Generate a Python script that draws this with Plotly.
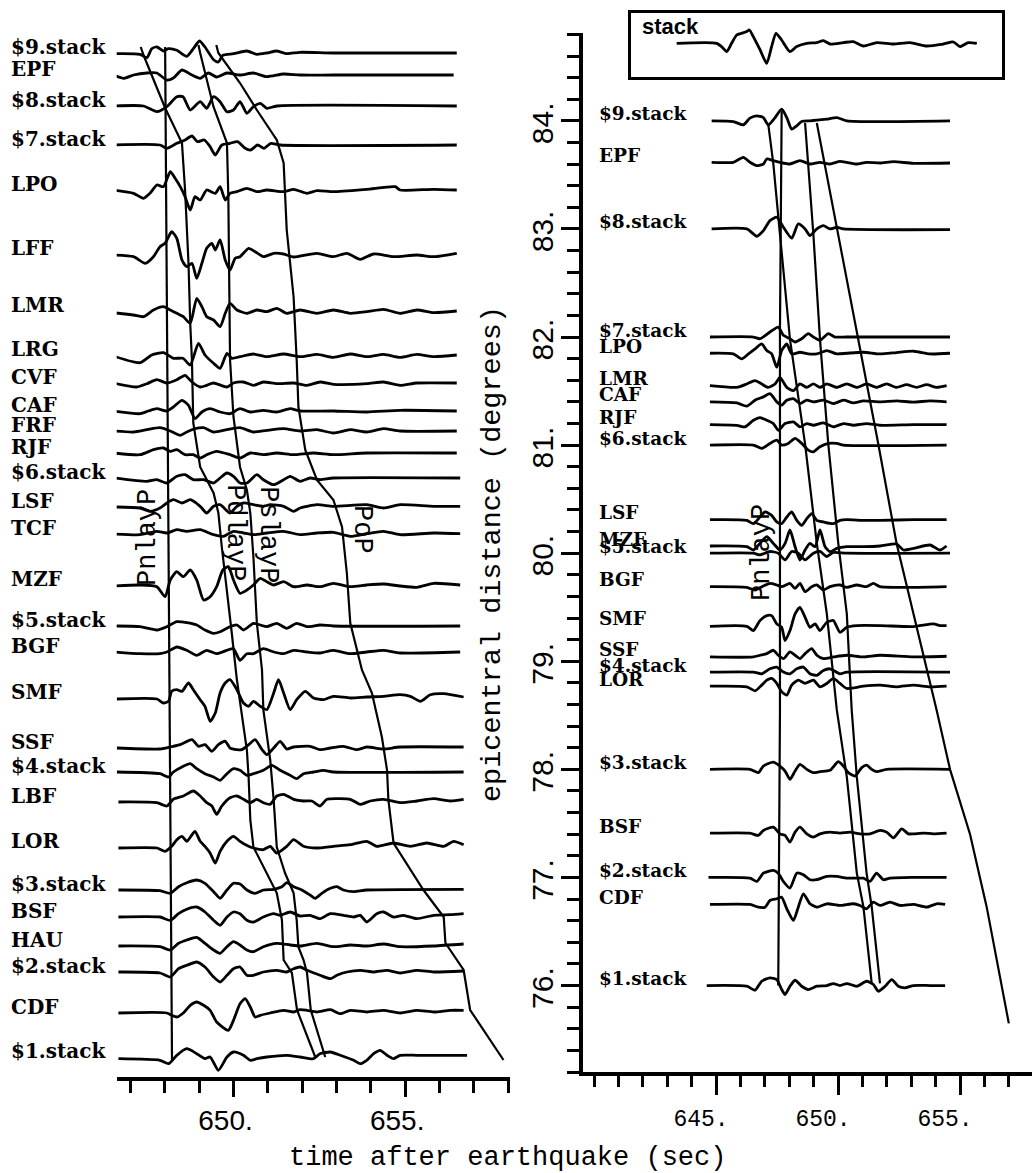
import plotly.graph_objects as go

# ---------------- LEFT PANEL: record section (time in s, amplitude in trace units) ----------------
LEFT_NAMES = ["$9.stack", "EPF", "$8.stack", "$7.stack", "LPO", "LFF", "LMR", "LRG", "CVF", "CAF",
              "FRF", "RJF", "$6.stack", "LSF", "TCF", "MZF", "$5.stack", "BGF", "SMF", "SSF",
              "$4.stack", "LBF", "LOR", "$3.stack", "BSF", "HAU", "$2.stack", "CDF", "$1.stack"]
LEFT_OFFSETS = [1024, 1002, 971, 932, 887, 823, 766, 722, 694, 666, 646, 624, 599, 570, 543, 492,
                451, 425, 379, 329, 305, 275, 230, 187, 160, 131, 105, 64, 20]

LEFT_TIMES = [
    [646.46, 647.28, 647.48, 647.62, 647.77, 647.96, 648.11, 648.35, 648.64, 648.83, 649.01, 649.17, 649.42, 649.56, 649.69, 650.00, 650.39, 650.68, 650.97, 651.26, 651.55, 651.94, 652.91, 656.50],
    [646.50, 646.80, 647.09, 647.48, 647.77, 648.06, 648.25, 648.50, 648.79, 649.03, 649.27, 649.51, 649.81, 650.19, 650.58, 650.97, 651.46, 651.94, 652.91, 656.41],
    [646.50, 647.38, 647.77, 648.06, 648.35, 648.53, 648.74, 649.03, 649.22, 649.42, 649.61, 649.81, 650.00, 650.19, 650.39, 650.58, 650.78, 650.97, 651.26, 656.50],
    [646.46, 647.86, 648.06, 648.35, 648.59, 648.79, 648.95, 649.15, 649.32, 649.47, 649.66, 649.90, 650.12, 650.34, 650.50, 650.70, 650.89, 651.09, 651.36, 656.50],
    [646.50, 647.09, 647.38, 647.57, 647.77, 647.96, 648.16, 648.30, 648.45, 648.59, 648.74, 648.88, 649.03, 649.22, 649.47, 649.61, 649.76, 649.90, 650.10, 650.39, 650.68, 650.97, 651.46, 651.75, 652.14, 652.43, 652.91, 653.88, 654.71, 654.85, 655.83, 656.50],
    [646.50, 647.09, 647.43, 647.67, 647.86, 648.01, 648.20, 648.35, 648.50, 648.64, 648.79, 648.93, 649.08, 649.22, 649.37, 649.47, 649.61, 649.76, 649.90, 650.05, 650.19, 650.44, 650.63, 650.87, 651.17, 651.46, 651.75, 652.43, 652.91, 653.30, 653.69, 654.08, 654.66, 655.34, 655.83, 656.50],
    [646.50, 647.09, 647.38, 647.67, 647.96, 648.16, 648.35, 648.54, 648.74, 648.93, 649.08, 649.22, 649.42, 649.61, 649.76, 649.90, 650.10, 650.39, 650.68, 650.97, 651.26, 651.55, 651.94, 652.43, 652.91, 653.40, 653.88, 654.37, 654.85, 655.34, 655.83, 656.50],
    [646.50, 647.28, 647.62, 647.96, 648.25, 648.53, 648.74, 648.98, 649.17, 649.42, 649.61, 649.81, 649.95, 650.19, 650.58, 650.97, 651.46, 651.94, 652.43, 652.91, 653.40, 653.88, 654.37, 654.85, 655.34, 655.83, 656.50],
    [646.50, 647.18, 647.48, 647.77, 648.06, 648.35, 648.59, 648.79, 649.03, 649.22, 649.42, 649.81, 650.00, 650.29, 650.58, 650.87, 651.26, 651.75, 652.14, 652.52, 652.91, 653.88, 654.37, 654.85, 655.34, 656.50],
    [646.50, 647.28, 647.52, 647.77, 648.06, 648.25, 648.50, 648.69, 648.88, 649.08, 649.32, 649.61, 649.90, 650.19, 650.49, 650.87, 651.26, 651.65, 651.94, 652.91, 653.88, 654.85, 656.50],
    [646.50, 647.09, 647.48, 647.86, 648.16, 648.45, 648.64, 648.88, 649.13, 649.42, 649.81, 650.19, 650.58, 650.97, 651.46, 651.94, 652.43, 652.91, 653.40, 653.88, 654.37, 654.85, 656.50],
    [646.50, 647.28, 647.67, 647.96, 648.16, 648.35, 648.59, 648.83, 649.03, 649.22, 649.51, 649.90, 650.19, 650.49, 650.87, 651.26, 651.75, 652.33, 652.91, 653.88, 656.50],
    [646.55, 647.48, 647.77, 648.06, 648.35, 648.59, 648.83, 649.13, 649.42, 649.61, 649.81, 650.00, 650.19, 650.39, 650.68, 650.87, 651.17, 651.46, 651.65, 651.94, 652.23, 652.52, 652.91, 656.60],
    [646.55, 647.28, 647.57, 647.86, 648.06, 648.25, 648.50, 648.74, 649.03, 649.22, 649.42, 649.61, 649.90, 650.10, 650.29, 650.58, 650.87, 651.07, 651.46, 651.75, 651.94, 652.43, 652.91, 653.88, 654.37, 654.85, 655.83, 656.60],
    [646.55, 647.28, 647.77, 648.06, 648.35, 648.64, 649.03, 649.42, 649.71, 650.00, 650.29, 650.58, 650.97, 651.46, 651.94, 652.43, 652.91, 653.40, 653.88, 654.37, 654.85, 655.83, 656.60],
    [646.55, 647.28, 647.77, 648.01, 648.16, 648.35, 648.54, 648.74, 648.93, 649.13, 649.32, 649.51, 649.69, 649.85, 650.00, 650.19, 650.39, 650.58, 650.78, 650.97, 651.17, 651.46, 651.75, 652.14, 652.52, 652.91, 653.40, 653.88, 654.37, 654.85, 655.34, 655.83, 656.60],
    [646.55, 647.28, 647.77, 648.06, 648.35, 648.64, 648.93, 649.17, 649.42, 649.61, 649.90, 650.10, 650.29, 650.58, 650.78, 650.97, 651.26, 651.55, 651.84, 652.14, 652.52, 652.91, 656.60],
    [646.55, 647.28, 647.86, 648.06, 648.35, 648.64, 648.93, 649.22, 649.51, 649.81, 650.00, 650.19, 650.39, 650.58, 650.87, 651.17, 651.46, 651.75, 652.14, 652.52, 652.91, 653.40, 653.88, 654.37, 654.85, 656.60],
    [646.60, 647.77, 647.96, 648.11, 648.20, 648.35, 648.50, 648.69, 648.83, 649.03, 649.17, 649.32, 649.47, 649.61, 649.76, 649.90, 650.10, 650.29, 650.44, 650.58, 650.78, 650.97, 651.17, 651.31, 651.46, 651.65, 651.84, 652.09, 652.33, 652.62, 652.91, 653.40, 653.88, 654.37, 654.85, 655.15, 655.44, 655.73, 656.12, 656.70],
    [646.60, 647.86, 648.16, 648.45, 648.79, 648.98, 649.17, 649.37, 649.56, 649.76, 649.90, 650.10, 650.24, 650.44, 650.63, 650.83, 650.97, 651.17, 651.36, 651.55, 651.75, 652.23, 652.52, 652.82, 653.20, 653.59, 653.88, 654.37, 654.85, 656.70],
    [646.60, 647.86, 648.11, 648.25, 648.50, 648.74, 648.93, 649.17, 649.42, 649.61, 649.81, 650.00, 650.19, 650.39, 650.58, 650.87, 651.12, 651.36, 651.65, 651.84, 652.04, 652.33, 652.62, 652.91, 656.70],
    [646.65, 647.77, 648.06, 648.25, 648.54, 648.83, 649.03, 649.22, 649.37, 649.51, 649.66, 649.90, 650.10, 650.29, 650.49, 650.68, 650.87, 651.07, 651.26, 651.46, 651.75, 652.04, 652.28, 652.52, 652.72, 653.11, 653.40, 653.69, 653.98, 654.37, 654.85, 655.34, 655.83, 656.31, 656.70],
    [646.65, 647.77, 648.01, 648.20, 648.35, 648.50, 648.64, 648.76, 648.88, 649.03, 649.17, 649.32, 649.47, 649.61, 649.81, 650.00, 650.19, 650.44, 650.58, 650.87, 651.07, 651.26, 651.55, 651.75, 652.04, 652.43, 652.91, 653.40, 653.88, 654.17, 654.66, 655.15, 655.63, 656.12, 656.41, 656.70],
    [646.65, 647.86, 648.16, 648.40, 648.64, 648.93, 649.17, 649.42, 649.61, 649.81, 650.00, 650.19, 650.39, 650.63, 650.87, 651.17, 651.41, 651.55, 651.75, 651.99, 652.23, 652.38, 652.57, 652.82, 653.01, 653.20, 653.50, 653.88, 656.70],
    [646.65, 647.86, 648.16, 648.40, 648.64, 648.93, 649.17, 649.42, 649.61, 649.81, 650.00, 650.19, 650.39, 650.58, 650.87, 651.17, 651.36, 651.65, 651.94, 652.23, 652.52, 652.82, 653.20, 653.50, 653.69, 653.88, 654.17, 654.37, 654.66, 654.95, 655.34, 655.83, 656.31, 656.70],
    [646.65, 647.86, 648.16, 648.40, 648.64, 648.93, 649.17, 649.42, 649.61, 649.81, 650.00, 650.19, 650.39, 650.58, 650.87, 651.26, 651.65, 651.94, 652.43, 652.91, 653.40, 653.88, 654.37, 654.85, 655.83, 656.70],
    [646.65, 647.86, 648.16, 648.40, 648.64, 648.93, 649.17, 649.42, 649.61, 649.81, 650.00, 650.19, 650.39, 650.58, 650.87, 651.26, 651.55, 651.75, 651.94, 652.14, 652.52, 652.82, 653.01, 653.30, 653.69, 654.08, 654.47, 654.85, 655.34, 655.83, 656.70],
    [646.65, 648.06, 648.20, 648.35, 648.54, 648.74, 648.93, 649.13, 649.32, 649.51, 649.85, 650.00, 650.19, 650.34, 650.49, 650.63, 650.78, 651.07, 651.46, 651.75, 651.94, 652.14, 652.43, 652.82, 653.11, 653.40, 653.88, 654.37, 654.85, 655.34, 655.83, 656.31, 656.70],
    [646.65, 647.86, 648.11, 648.35, 648.64, 648.93, 649.17, 649.32, 649.56, 649.81, 650.00, 650.29, 650.49, 650.68, 650.97, 651.55, 651.94, 652.33, 652.52, 652.82, 653.11, 653.50, 653.69, 653.88, 654.08, 654.27, 654.47, 654.66, 654.85, 655.34, 655.83, 656.80],
]

LEFT_AMPS = [
    [-0.7, -1.3, -4.7, 4.3, 6, 2, 4.3, 2.7, -3.3, 4.3, 12, 6, -6.7, -9, -2.3, -0.7, 2, -1.3, 0, 2, -0.7, 0.7, 0, 0],
    [0, -3.3, 0, 2, 2, -5, -3, 5, 0, -3.3, 2, -2, 2, 0, 2, -1.7, 1, 0, 0, 0],
    [0, 0, -5.7, -0.7, 9.3, 9.3, -4, 4.3, -2.3, 9.3, 4.3, -5.7, -4, 4.3, -7.3, -0.7, 2.7, -2.3, 0, 0],
    [0, 0, -3.3, 1.7, 5, 9, 3.3, 5, -1.7, -10, 0, 1.7, 3.3, -3.3, -5, 0, -3.3, 1.7, 0, 0],
    [0, -3.3, -8.3, -3.3, 5, 3.3, 18.3, 11.7, 3.3, -6.7, -20, -6.7, -10, 0, -3.3, 3.3, -10, -3.3, -1.7, 1.7, -1.7, 0, -1.7, 0.7, -3.3, -0.7, -1.7, 0.7, 3.3, 0, 0.7, 0],
    [-1, -2.7, -9.3, -2.7, 7.3, 10.7, 22.3, 15.7, -6, -12.7, -9.3, -24.3, -9.3, 5.7, 10.7, 4, 14, -6, -16, -4.3, -2.7, 5.7, 2.3, -2.7, 0.7, 0, -3, 0.7, -2.7, 0.7, -5.3, 0, -2.7, -1, -2.7, 0.7],
    [-1.7, -4, -5.7, 1, 4.3, 1, -2.3, -5.7, -12.3, 12.7, 4.3, -5.7, -9, -15.7, -2.3, 7.7, 1, -2.3, 1, -0.7, 2.7, -2.3, 1, -2.3, 1, -2.3, -0.7, 1.7, -2.3, 1, -1.7, 0],
    [-1, -7.7, 0, 2.3, -3.3, -3.3, -10, 11.7, 0, -8.3, -13.3, 1.7, -3.3, -1.7, 1, -1.7, 1, -1.7, 0.7, -2.3, 1, -1.7, 0.7, -2.3, 0.7, -1.7, 0],
    [0, -4, -0.7, 3.3, 0, 3.3, 7.7, 1, -4, -2.3, 0, -4, 0, 1, -2.3, 1, -0.7, 0, -2.3, 1, -1.3, -0.7, 1, -2.3, 0, 0],
    [0, -2.7, 0, 2.3, 0, 4, 10.7, 5.7, -7.7, -1, 2.3, -1, -2.7, 2.3, -1, 0.7, -1, 2.3, 0, 0, -1, 0.7, 0],
    [0, -1, 1.3, 3.3, 0, -4.3, -1, 2.3, 3.3, -1, 1.3, 3.3, -1, 0.7, 2.3, 0, 1.3, -2, 1.3, -1, 2.3, 0, 0],
    [0, -1.7, 3.3, 5, 1.7, 3.3, -1.7, -1.7, -5, -1.7, 1.7, -1.7, -5, 0, -1.7, 0, -1.7, 0, -1.7, 0, 0],
    [0, -3.3, -1.7, -5, 1.7, 3.3, -1.7, -1.7, -5, 0, 5, 1.7, -5, -5, 3.3, -1.7, -6.7, -1.7, 1.7, -3.3, 0, -1.7, 0, 0],
    [0, -1, -4.3, -1, 4, 7.3, 4, 7.3, 0.7, -6, 0.7, 2.3, -6, 0.7, 4, 2.3, 0.7, 2.3, 0.7, -4.3, -1, 2.3, 0.7, 2.3, -1, 2.3, 0.7, 0.7],
    [0, -0.7, 2.7, 1, 4.3, 2.7, 4.3, -0.7, -2.3, 2.7, 1, -0.7, 1, 2.7, -0.7, 1, 1.7, -2.3, 0.3, 2.7, -0.7, 1, 0.3],
    [-1, 0, -1.7, -11.7, 5, 13.3, 8.3, 15, 5, -15, -11.7, -1.7, 15, 18.3, 5, -8.3, -5, 0, 6.7, 3.3, 0, 3.3, -1.7, 0, -1.7, 1.7, -1.7, 0, 1, -1, -2.3, 1.7, 0],
    [0, -0.7, -4, -0.7, 4.3, 3.3, 1, -4, -7.3, -5.7, -0.7, 1, -4, 2.7, 1, -0.7, 2.7, -2.3, 2.7, -0.7, 1, 0, 0],
    [0, -1.7, -1.7, 0, 5, 1.7, -3.3, 1.7, -1.7, 1.7, 3.3, -8.3, -1.7, -1.7, 3.3, 0, -1.7, 1.7, 0, -1, 1.7, -1.7, 0, 1.7, -1, 0],
    [-1, -1, -5, -3.3, 6.7, 8.3, 6.7, 15, 8.3, -1.7, -8.3, -23.3, -15, 5, 15, 18.3, 8.3, -5, -8.3, -3.3, -8.3, -11.7, 5, 18.3, 5, -11.7, -1.7, 6.7, 0, -1.7, 1.7, 0, 1, 1.7, 3.3, 1.7, -3.3, 3.3, 4.3, 1],
    [0, -1, 1, 3.3, 8.3, 1.7, 3.3, -3.3, 3.3, 6.7, 0, -1.7, -1.7, 3.3, 8.3, -1.7, -6.7, 0, 6.7, -1, 1, 1.7, -1.7, 0, 1.7, -1.7, 1, -1, 1, 1],
    [0, -1.7, -5, 0, 5, 8.3, 3.3, -1.7, -5, -8.3, -1.7, 3.3, 1.7, -3.3, -1.7, 1.7, 6.7, 1.7, -3.3, -6.7, -1.7, 0, 1.7, 0, 0],
    [0, -0.7, -4, 2.7, 6, 11, 6, -0.7, -4, -12.3, -4, 4.3, 6, 2.7, -0.7, 2.7, -0.7, -2.3, 6, 7.7, 2.7, 1, 1, -4, 2.7, 3.3, 2.7, -2.3, 1, 2.7, -0.7, 1, 3.3, 1, 2.7],
    [-1, -1, -4.3, 0.7, 7.3, 10.7, 5.7, 10.7, 15.7, 5.7, 0.7, -6, -16, -4.3, 5.7, 10.7, 5.7, 0.7, -1, -2.7, 0.7, -6, 0.7, 7.3, 0.7, -1, 0.7, 2.3, 5.7, 0.7, 4, 0.7, 4, 0.7, 5.7, 2.3],
    [0, -0.7, -3.3, 3.3, 7.3, 10, 6.7, -1.7, -8.3, 0, 6.7, 6, 0, -3.3, 0, 0.7, 3.3, 7.3, 3.3, 0, -5, -8.3, -3.3, 1.7, 3.3, 0, -1.7, 0, 0.7],
    [0, 0, -3.3, 3.3, 7.7, 10, 5, -3.3, -8.3, 0, 5, 3.3, -3.3, -5, 0, 3.3, 1.7, 5, 1, 1.7, -1.7, 3.3, 1.7, 0, 1.7, -5, 3.3, 5, 0, 1.7, -1.7, 1.7, 2.3, 3.3],
    [0, -0.7, -4, 2.7, 6, 8.7, 2.7, -4, -7.3, -0.7, 4.3, 1, -4, -5.7, -0.7, 2.7, 1, 0, 2.7, -0.7, 1, 0, 2, -0.7, 0, 2],
    [0, -1, -5, 3.3, 6.7, 10, 5, -5, -10, -3.3, 3.3, 5, -3.3, -3.3, 0, 1.7, 0, 3.3, 5, 1.7, -3.3, -6.7, -3.3, 0, 1.7, 0, 1.7, -1, 1.7, 0, 1],
    [0, 0, -2.3, -4, 0, 7.7, 11, 7.7, 2.7, -9, -17.3, -7.3, 9.3, 14.3, 6, -4, -2.3, 0, 2.7, 1, 3.3, 2.7, 1, 3.3, -0.7, 2.7, 1, 2.7, 0, 2.7, 1, 2.7, 2.7],
    [-1.7, -3.3, -6.7, 1.7, 8.3, 3.3, -1.7, 0, -13.3, 0, 5, 1.7, -3.3, -1.7, 0, 1.7, 0, -1.7, 3.3, 5, 1.7, -3.3, -6.7, -3.3, 3.3, 6.7, 1.7, -1.7, 1.7, 1.7, 1.7, 1.7],
]

# travel-time curves on the left panel (time s, trace offset)
L_PNLAYP_T = [648.01, 648.08, 648.14, 648.21]
L_PNLAYP_Y = [1030, 700, 400, 17]
L_PDLAYP_T = [647.30, 647.38, 648.01, 648.50, 648.59, 648.69, 648.74, 648.79, 648.83, 649.03, 649.42, 649.56, 649.66, 649.81, 649.95, 650.10, 650.39, 650.44, 650.49, 650.58, 650.97, 651.26, 651.41, 651.46, 651.70, 651.85, 652.38]
L_PDLAYP_Y = [1030, 1022, 969, 934, 887, 814, 754, 717, 654, 610, 584, 564, 530, 487, 444, 397, 327, 300, 257, 230, 204, 184, 157, 117, 104, 67, 20]
L_PSLAYP_T = [648.98, 649.03, 649.42, 649.81, 649.85, 649.90, 650.00, 650.19, 650.39, 650.49, 650.58, 650.68, 650.83, 650.87, 651.07, 651.17, 651.26, 651.50, 651.75, 651.84, 651.89, 652.04, 652.14, 652.25, 652.67]
L_PSLAYP_Y = [1032, 1024, 970, 934, 880, 717, 660, 610, 587, 564, 520, 454, 407, 367, 317, 277, 230, 204, 184, 157, 130, 117, 104, 67, 20]
L_POP_T = [649.50, 649.56, 650.19, 650.68, 651.26, 651.46, 651.55, 651.75, 651.84, 651.89, 652.09, 652.43, 652.91, 653.16, 653.30, 653.40, 653.74, 654.03, 654.32, 654.47, 654.51, 654.66, 655.53, 656.12, 656.17, 656.70, 656.89, 657.86]
L_POP_Y = [1032, 1024, 994, 967, 937, 914, 847, 780, 717, 670, 627, 597, 577, 550, 504, 454, 407, 384, 340, 307, 277, 234, 187, 160, 134, 107, 67, 17]

# ---------------- RIGHT PANEL: traces at epicentral distance ----------------
RIGHT_NAMES = ["$9.stack", "EPF", "$8.stack", "$7.stack", "LPO", "LMR", "CAF", "RJF", "$6.stack", "LSF",
               "MZF", "$5.stack", "BGF", "SMF", "SSF", "$4.stack", "LOR", "$3.stack", "BSF", "$2.stack",
               "CDF", "$1.stack"]
RIGHT_DIST = [84.0, 83.61, 83.0, 82.0, 81.85, 81.55, 81.40, 81.19, 81.0, 80.31, 80.06, 80.0, 79.69, 79.33,
              79.04, 78.90, 78.77, 78.0, 77.41, 77.0, 76.75, 76.0]
RIGHT_TIMES = [
    [644.82, 645.71, 646.12, 646.39, 646.67, 646.94, 647.14, 647.42, 647.69, 647.90, 648.10, 648.31, 648.51, 648.85, 649.13, 649.54, 649.95, 650.36, 654.59],
    [644.82, 645.71, 646.12, 646.39, 646.67, 646.94, 647.08, 647.35, 647.62, 648.03, 648.44, 648.85, 649.26, 649.67, 650.08, 650.36, 650.77, 651.17, 651.72, 652.27, 653.09, 654.59],
    [644.82, 646.26, 646.67, 646.94, 647.21, 647.49, 647.76, 648.10, 648.37, 648.65, 648.85, 649.13, 649.40, 649.67, 649.95, 650.22, 654.59],
    [644.75, 646.53, 646.80, 647.21, 647.55, 647.76, 648.03, 648.24, 648.51, 648.78, 648.99, 649.26, 649.60, 649.88, 650.36, 654.59],
    [644.75, 645.71, 646.05, 646.33, 646.60, 646.87, 647.08, 647.28, 647.49, 647.69, 647.90, 648.10, 648.44, 648.78, 649.13, 649.54, 649.95, 650.36, 651.04, 651.72, 652.40, 653.09, 653.77, 654.59],
    [644.75, 645.85, 646.26, 646.60, 646.87, 647.14, 647.42, 647.62, 647.90, 648.17, 648.44, 648.72, 648.99, 649.26, 649.54, 649.95, 650.36, 650.77, 651.17, 651.58, 651.99, 652.40, 652.81, 653.22, 653.63, 654.04, 654.45],
    [644.75, 645.85, 646.26, 646.60, 646.94, 647.21, 647.49, 647.69, 647.90, 648.17, 648.44, 648.72, 648.99, 649.40, 649.81, 650.22, 650.63, 651.04, 651.72, 652.40, 653.09, 653.77, 654.45],
    [644.75, 645.85, 646.19, 646.53, 646.80, 647.08, 647.35, 647.55, 647.83, 648.17, 648.44, 648.72, 648.99, 649.40, 649.81, 650.22, 650.63, 651.17, 651.72, 653.09, 654.45],
    [644.75, 646.53, 646.87, 647.21, 647.49, 647.69, 647.96, 648.24, 648.51, 648.78, 648.99, 649.26, 649.60, 649.95, 650.22, 654.45],
    [644.75, 646.26, 646.53, 646.80, 647.01, 647.28, 647.49, 647.69, 647.90, 648.10, 648.31, 648.51, 648.72, 648.92, 649.13, 649.40, 649.81, 650.08, 650.36, 651.04, 651.72, 653.09, 654.45],
    [644.75, 646.26, 646.53, 646.80, 647.08, 647.35, 647.62, 647.83, 648.03, 648.24, 648.44, 648.65, 648.85, 649.06, 649.26, 649.47, 649.67, 649.95, 650.36, 651.04, 651.72, 652.40, 652.68, 653.09, 653.77, 654.18, 654.45],
    [644.75, 646.53, 646.80, 647.21, 647.55, 647.83, 648.10, 648.37, 648.65, 648.99, 649.26, 649.54, 649.81, 650.36, 654.59],
    [644.75, 646.26, 646.60, 646.94, 647.21, 647.49, 647.69, 648.03, 648.24, 648.44, 648.65, 648.92, 649.13, 649.40, 649.67, 650.08, 650.36, 650.77, 651.17, 651.45, 651.72, 653.09, 654.45],
    [644.75, 646.26, 646.53, 646.80, 647.08, 647.28, 647.49, 647.69, 647.83, 648.03, 648.24, 648.44, 648.65, 648.85, 649.06, 649.26, 649.54, 649.81, 650.08, 650.36, 650.77, 651.72, 653.09, 653.91, 654.18, 654.45],
    [644.75, 646.53, 646.80, 647.08, 647.35, 647.55, 647.76, 648.03, 648.24, 648.44, 648.65, 648.92, 649.13, 649.40, 649.81, 650.36, 651.04, 651.72, 653.09, 654.45],
    [644.75, 646.53, 646.87, 647.21, 647.49, 647.76, 648.03, 648.31, 648.58, 648.85, 649.13, 649.40, 649.67, 650.08, 650.36, 654.59],
    [644.75, 646.26, 646.60, 646.87, 647.08, 647.28, 647.49, 647.69, 647.90, 648.10, 648.37, 648.65, 648.99, 649.26, 649.54, 649.81, 650.08, 650.36, 651.04, 651.72, 652.40, 653.09, 653.77, 654.45],
    [644.75, 646.39, 646.73, 646.94, 647.35, 647.62, 647.83, 648.03, 648.24, 648.44, 648.72, 648.99, 649.26, 649.67, 650.01, 650.22, 650.42, 650.70, 650.97, 651.17, 651.38, 651.58, 651.99, 654.59],
    [644.75, 646.39, 646.73, 646.94, 647.35, 647.62, 647.83, 648.03, 648.24, 648.44, 648.72, 648.99, 649.26, 649.67, 650.08, 650.49, 650.90, 651.31, 651.72, 651.99, 652.27, 652.61, 652.88, 653.09, 653.50, 653.91, 654.45],
    [644.69, 646.39, 646.67, 646.94, 647.35, 647.55, 647.76, 648.03, 648.31, 648.58, 648.85, 649.13, 649.54, 649.95, 650.36, 650.77, 651.04, 651.31, 651.58, 651.86, 652.13, 653.09, 654.45],
    [644.75, 646.39, 646.73, 647.01, 647.21, 647.49, 647.69, 647.90, 648.17, 648.37, 648.58, 648.85, 649.13, 649.54, 650.08, 650.63, 650.90, 651.17, 651.45, 651.72, 652.13, 652.54, 653.09, 653.63, 654.04, 654.39],
    [644.62, 646.26, 646.60, 646.87, 647.21, 647.49, 647.69, 647.83, 648.03, 648.24, 648.51, 648.78, 649.13, 649.54, 649.81, 650.08, 650.36, 650.77, 651.17, 651.45, 651.65, 651.93, 652.20, 652.47, 652.75, 653.09, 653.77, 654.39],
]
RIGHT_AMPS = [
    [0, -0.7, -4, 2.7, 5, 3.3, -4, 3.3, 11.7, 3.3, -8.3, -5, -0.7, 0, 0.7, 1.7, 3.3, 0, 0],
    [0.7, 0.7, 5.7, 0.7, -2.7, -1, 4, 2.3, 0.7, -1, 2.3, -1, 0.7, -1, 1.7, 0.7, -1, 0.7, 0, 1.3, -0.3, 0],
    [0, 0, -7.3, -1.7, 8.3, 11.7, 1.7, -9.3, 5, 0, -6.7, 0, 3.3, 0, 1.7, 0, -0.7],
    [0, 0, -1.7, 5, 10, 1.7, -1.7, -5, -1.7, 3.3, 0, -3.3, 3.3, 0, 0, 0],
    [0, -0.7, -5.7, -0.7, 4.3, 9.3, 2.7, -0.7, -14, 2.7, 9.3, -0.7, 1, -0.7, -0.7, 2.7, -0.7, 0, 1, -0.7, 0.7, 2, -0.7, 0],
    [0, -1.7, 1.7, 5, 1.7, -1.7, 1.7, 8.3, -1.7, -5, 1.7, -1.7, 1.7, -1.7, 1.7, -1.7, 1.7, -1.7, 1.7, -1.7, 1.7, -1.7, 1, -1.7, 1, -1.7, 0],
    [0, -1, -4.3, 1.7, 5, 8.3, 0, -3.3, 1.7, 3.3, -1.7, 1.7, 0, 1.7, -1.7, 1.7, -1, 1, 0, 1, -0.3, 1, 0],
    [0, -0.7, -2.3, 4.3, 7, 4.3, 1, -5.7, 1, 2.7, -2.3, 1, -0.7, 1.7, -2.3, 1, -0.7, 1, -0.7, 0, 0],
    [0, 0, -3.3, 1.7, 5, 0, 1.7, 6.7, 1.7, -5, -6.7, -1.7, 1.7, 1.7, 0, 0],
    [0, -0.7, -4, 2.7, 7.7, 4.3, -2.3, -4, 2.7, 7.7, -0.7, -5.7, 1, 6, -0.7, -2.3, -4, -0.7, 0, -0.7, -0.7, 0, 0],
    [0.7, 0, -3.3, 3.3, 10, 3.3, -3.3, 3.3, 16.7, 0, -13.3, -3.3, 3.3, 0, 16.7, 0, -5, -1.7, 0, 0, 0.7, 2.7, -3.3, -1.7, 1.7, -3.3, 0.7],
    [0, 0, -1.7, 1.7, 0, -6.7, 1.7, 0, -6.7, 0, 1.7, -3.3, 0.7, 0, 0],
    [0, -0.7, -3.3, 0.7, 3.3, 1.7, 0, 3.3, -1.7, 3.3, -5, 0, 1.7, -3.3, 0, 1.7, -0.7, 1.7, 0, 3.3, 0, -0.7, 0],
    [-0.7, -0.7, -5, 5, 10, 10, 1.7, -1.7, -15, -5, 11.7, 18.3, 8.3, -1.7, 1.7, -5, 3.3, 5, -6.7, -1.7, 0, 0, -1, 1.7, 0, 0],
    [0, 0, 1.7, 3.3, 6.7, 1.7, -1.7, 5, 1.7, -1.7, 3.3, 8.3, 1.7, -1.7, 0, 1.7, 0, 1.7, 0, 0.7],
    [0, 0, -1.7, 3.3, 5, 0, -1.7, 3.3, 5, -1.7, -3.3, 1.7, 3.3, -1.7, 0, 0],
    [0, -0.7, -4.7, 1, 6, 7.7, 2.7, -5.7, -9, 1, 6, 2.7, 6, -0.7, 2.7, 7.7, 2.7, -2.3, 0, 1, -0.7, 1, -0.7, 0],
    [0, 0, -3.3, 3.3, 7.3, 3.3, -1.7, -10, -1.7, 5, 0, -3.3, -2.3, -1, 7.7, 3.3, -3.3, -6.7, 1.7, 4.3, 0, -2.3, 0, 0],
    [0, 0, -2.3, 2.7, 6, -0.7, -2.3, -9, 1, 6, -0.7, -4, -0.7, 1, 0, 1, -0.7, -0.7, 2.7, 1, -4.7, 4.3, -0.7, -0.7, 0, -0.7, 0],
    [0, -0.7, -4, 4.3, 7, 4.3, -4, -10.7, 4.3, 2.7, -2.3, -2.3, 1, 1, -0.7, -0.7, -0.7, -4, 4.3, -2.3, -0.7, 0, 0],
    [0, 0, -2.7, -2.7, 4, 5.7, 7.3, -4.3, -16, -2.7, 10.7, 0.7, -2.7, 0.7, -1, 0.7, -1, -4.3, 2.3, -1, 2.3, -1, 0, -2.7, 0.7, 0],
    [0, -0.7, -4.7, 4.3, 7.7, 6, -4, -9, -0.7, 5.3, -0.7, -4, -0.7, 0, 2, 0, 2, -0.7, 4.3, 1, -5.7, -0.7, 6, -0.7, -2.3, 0, 0, 0],
]
RIGHT_AMP_SCALE = 1 / 108.2   # degrees per amplitude unit

# travel-time curves on the right panel (time s, distance deg)
R_PNLAYP_T = [647.69, 647.62, 647.62, 647.55]
R_PNLAYP_D = [84.09, 82.06, 78.55, 76.0]
R_PDLAYP_T = [647.14, 647.35, 647.62, 648.03, 648.65, 649.13, 649.54, 649.95, 650.36, 650.77, 651.04, 651.38]
R_PDLAYP_D = [83.97, 83.60, 82.95, 81.98, 81.01, 80.09, 79.44, 78.55, 77.93, 77.04, 76.73, 76.02]
R_PSLAYP_T = [648.65, 648.99, 649.26, 649.60, 650.01, 650.36, 650.56, 650.77, 651.17, 651.38, 651.72]
R_PSLAYP_D = [83.98, 82.95, 81.98, 81.01, 80.09, 79.44, 78.55, 77.93, 77.04, 76.73, 76.02]
R_POP_T = [649.13, 650.01, 650.83, 651.65, 652.40, 653.09, 654.04, 654.59, 655.41, 656.09, 656.71, 657.00]
R_POP_D = [83.98, 82.95, 81.98, 81.01, 80.09, 79.44, 78.55, 78.0, 77.4, 76.73, 76.0, 75.65]

# inset: overall stack
STACK_T = [0, 1.64, 1.84, 2.05, 2.25, 2.46, 2.66, 2.87, 2.98, 3.14, 3.42, 3.69, 3.89, 4.07, 4.30, 4.64, 4.92,
           5.33, 5.74, 6.01, 6.28, 6.83, 7.24, 7.65, 8.20, 8.88, 9.56, 10.25, 10.93, 11.34, 11.61, 11.95, 12.30]
STACK_A = [0, 0, -3.3, -8.3, 0, 8.3, 10, 11.7, 13.3, 6.7, -6.7, -20, -3.3, 10, 3.3, -8.3, -3.3, 0, 0.7, 2.7,
           -0.7, 0.7, 1.7, -2.7, 0.7, -0.7, 0.7, -2.7, -0.7, 1.3, -3.3, 0.7, 0]

LEFT_TICKS = [650, 655]
RIGHT_TICKS = [645, 650, 655]
DIST_TICKS = [76, 77, 78, 79, 80, 81, 82, 83, 84]

# ---------------- figure ----------------
fig = go.Figure()
WAVE = dict(color="black", width=2.8, shape="spline", smoothing=0.6)
CURVE = dict(color="black", width=2.2)

for off, ts, amps in zip(LEFT_OFFSETS, LEFT_TIMES, LEFT_AMPS):
    fig.add_trace(go.Scatter(x=ts, y=[off + a for a in amps], mode="lines", line=WAVE,
                             xaxis="x", yaxis="y", hoverinfo="skip"))
for tx, ty in [(L_PNLAYP_T, L_PNLAYP_Y), (L_PDLAYP_T, L_PDLAYP_Y), (L_PSLAYP_T, L_PSLAYP_Y), (L_POP_T, L_POP_Y)]:
    fig.add_trace(go.Scatter(x=tx, y=ty, mode="lines", line=CURVE, xaxis="x", yaxis="y", hoverinfo="skip"))

for d, ts, amps in zip(RIGHT_DIST, RIGHT_TIMES, RIGHT_AMPS):
    fig.add_trace(go.Scatter(x=ts, y=[d + a * RIGHT_AMP_SCALE for a in amps], mode="lines", line=WAVE,
                             xaxis="x2", yaxis="y2", hoverinfo="skip"))
for tx, ty in [(R_PNLAYP_T, R_PNLAYP_D), (R_PDLAYP_T, R_PDLAYP_D), (R_PSLAYP_T, R_PSLAYP_D), (R_POP_T, R_POP_D)]:
    fig.add_trace(go.Scatter(x=tx, y=ty, mode="lines", line=CURVE, xaxis="x2", yaxis="y2", hoverinfo="skip"))

fig.add_trace(go.Scatter(x=STACK_T, y=STACK_A, mode="lines", line=WAVE, xaxis="x3", yaxis="y3", hoverinfo="skip"))

ann = []
LABEL_FONT = "DejaVu Serif, Liberation Serif, serif"
for name, off in zip(LEFT_NAMES, LEFT_OFFSETS):
    ann.append(dict(text="<b>" + name + "</b>", x=9 / 1032, xref="paper", xanchor="left", y=off, yref="y",
                    yanchor="middle", yshift=6, showarrow=False,
                    font=dict(family=LABEL_FONT, size=20, color="black")))
for name, d in zip(RIGHT_NAMES, RIGHT_DIST):
    ann.append(dict(text="<b>" + name + "</b>", x=640.12, xref="x2", xanchor="left", y=d, yref="y2",
                    yanchor="middle", yshift=7, showarrow=False,
                    font=dict(family=LABEL_FONT, size=18.5, color="black")))

MONO = "Liberation Mono, Courier New, monospace"
phase_labels = [
    ("PnlayP", 647.51, 540, "x", "y", -90),
    ("PdlayP", 650.04, 544, "x", "y", 90),
    ("PslayP", 651.00, 542, "x", "y", 90),
    ("PoP", 653.74, 547, "x", "y", 90),
    ("PnlayP", 646.88, 80.01, "x2", "y2", -90),
]
for txt, x, y, xr, yr, ang in phase_labels:
    ann.append(dict(text=txt, x=x, y=y, xref=xr, yref=yr, textangle=ang, showarrow=False,
                    xanchor="center", yanchor="middle",
                    font=dict(family=MONO, size=27, color="black")))

ann.append(dict(text="<b>stack</b>", x=-1.5, y=17.3, xref="x3", yref="y3", xanchor="left", yanchor="middle",
                showarrow=False, font=dict(family="Liberation Sans, Arial", size=22, color="black")))
ann.append(dict(text="time after earthquake (sec)", x=507 / 1032, y=1 - 1158 / 1173, xref="paper", yref="paper",
                xanchor="center", yanchor="middle",
                showarrow=False, font=dict(family=MONO, size=27, color="black")))
ann.append(dict(text="epicentral distance (degrees)", x=492 / 1032, y=1 - 554 / 1173, xref="paper",
                yref="paper", textangle=-90, xanchor="center", yanchor="middle", showarrow=False,
                font=dict(family=MONO, size=28.5, color="black")))

left_minor = [t for t in range(647, 659) if t not in LEFT_TICKS]
right_minor = [t for t in range(640, 658) if t not in RIGHT_TICKS]
dist_minor = [round(75.2 + 0.2 * i, 1) for i in range(49)]
dist_minor = [v for v in dist_minor if abs(v - round(v)) > 0.01]

fig.update_layout(
    width=1032, height=1173, margin=dict(l=0, r=0, t=0, b=0, autoexpand=False),
    paper_bgcolor="white", plot_bgcolor="white", showlegend=False, hovermode=False,
    annotations=ann,
    xaxis=dict(domain=[116.7 / 1032, 510 / 1032], range=[646.6, 658.05], anchor="y",
               showline=True, linewidth=3.5, linecolor="black", showgrid=False, zeroline=False,
               ticks="outside", tickmode="array", tickvals=LEFT_TICKS, ticktext=[f"{v}." for v in LEFT_TICKS],
               ticklen=16, tickwidth=3, tickcolor="black", ticklabelshift=-8, ticklabelstandoff=0,
               tickfont=dict(family="Liberation Sans, Arial", size=28, color="black"),
               minor=dict(ticks="outside", tickmode="array", tickvals=left_minor, ticklen=12, tickwidth=3,
                          tickcolor="black", showgrid=False)),
    yaxis=dict(domain=[1 - 1077 / 1173, 1.0], range=[0, 1077], anchor="x", visible=False),
    xaxis2=dict(domain=[583.3 / 1032, 1.0], range=[639.56, 657.95], anchor="y2",
                showline=True, linewidth=3.5, linecolor="black", showgrid=False, zeroline=False,
                ticks="outside", tickmode="array", tickvals=RIGHT_TICKS, ticktext=[f"{v}." for v in RIGHT_TICKS],
                ticklen=19, tickwidth=3, tickcolor="black", ticklabelshift=-15, ticklabelstandoff=4,
                tickfont=dict(family=MONO, size=23, color="black"),
                minor=dict(ticks="outside", tickmode="array", tickvals=right_minor, ticklen=11, tickwidth=3,
                           tickcolor="black", showgrid=False)),
    yaxis2=dict(domain=[1 - 1072 / 1173, 1 - 33.3 / 1173], range=[75.2, 84.81], anchor="x2",
                showline=True, linewidth=3.5, linecolor="black", showgrid=False, zeroline=False,
                ticks="outside", tickmode="array", tickvals=DIST_TICKS, ticktext=[f"{v}." for v in DIST_TICKS],
                ticklen=19, tickwidth=3, tickcolor="black", tickangle=-90, ticklabelshift=7,
                ticklabelstandoff=-4,
                tickfont=dict(family="Liberation Sans, Arial", size=30, color="black"),
                minor=dict(ticks="outside", tickmode="array", tickvals=dist_minor, ticklen=13, tickwidth=3,
                           tickcolor="black", showgrid=False)),
    xaxis3=dict(domain=[630.7 / 1032, 1001.7 / 1032], range=[-1.885, 13.32], anchor="y3",
                showline=True, mirror=True, linewidth=3, linecolor="black", showgrid=False, zeroline=False,
                showticklabels=False, ticks=""),
    yaxis3=dict(domain=[1 - 76.7 / 1173, 1 - 12.7 / 1173], range=[-33.4, 30.6], anchor="x3",
                showline=True, mirror=True, linewidth=3, linecolor="black", showgrid=False, zeroline=False,
                showticklabels=False, ticks=""),
)

fig.write_html("out.html", config={"displayModeBar": False},
               post_script="document.body.style.margin='0';document.body.style.padding='0';")
